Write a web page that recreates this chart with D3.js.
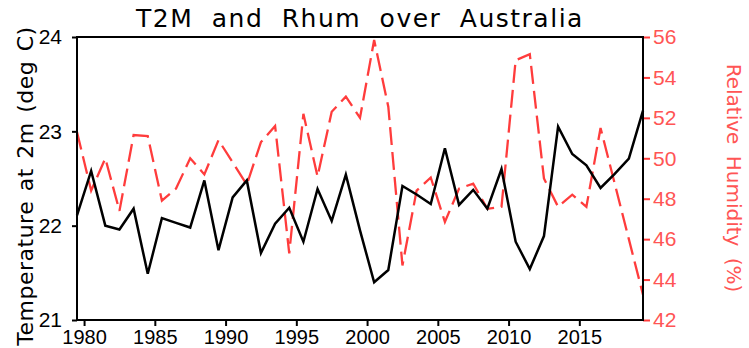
<!DOCTYPE html>
<html>
<head>
<meta charset="utf-8">
<script src="https://cdn.jsdelivr.net/npm/d3@7"></script>
<style>
  body { margin: 0; background: #fff; }
  svg { display: block; }
  text { font-family: "Liberation Sans", Arial, sans-serif; }
  .lbl { font-family: "DejaVu Sans", sans-serif; }
</style>
</head>
<body>
<svg id="chart" width="749" height="348"></svg>
<script>
// annual means, 1979-2019
const years = d3.range(1979, 2020);
const t2m = [22.11, 22.58, 22.00, 21.96, 22.18, 21.49, 22.08, 22.03, 21.98, 22.48,
             21.74, 22.30, 22.48, 21.71, 22.02, 22.19, 21.83, 22.39, 22.05, 22.54,
             21.95, 21.40, 21.53, 22.42, 22.33, 22.23, 22.82, 22.22, 22.38, 22.18,
             22.60, 21.83, 21.54, 21.89, 23.05, 22.76, 22.64, 22.40, 22.55, 22.71, 23.22];
const rhum = [51.3, 48.4, 50.0, 47.4, 51.15, 51.1, 47.9, 48.5, 50.0, 49.2,
              50.9, 49.8, 48.7, 50.8, 51.6, 45.3, 52.2, 49.1, 52.3, 53.05,
              52.0, 55.85, 52.55, 44.7, 48.4, 49.05, 46.85, 48.5, 48.75, 47.5,
              47.6, 54.85, 55.15, 49.0, 47.6, 48.2, 47.6, 51.5, 48.75, 46.0, 43.25];
const xTicks = [1980, 1985, 1990, 1995, 2000, 2005, 2010, 2015];
const tTicks = [21, 22, 23, 24];
const rTicks = d3.range(42, 57, 2);

const pL = 77, pR = 643, pT = 37, pB = 320;
const red = "#ff3c3c";
const svg = d3.select("#chart");

const x = d3.scaleLinear().domain([1979, 2019]).range([pL, pR]);
const yT = d3.scaleLinear().domain([21, 24]).range([pB, pT]);
const yR = d3.scaleLinear().domain([42, 56]).range([pB, pT]);

// bottom axis (labels sit half a year left of the data points)
const gx = svg.append("g")
    .attr("transform", `translate(0,${pB})`)
    .call(d3.axisBottom(x).tickValues(xTicks.map(d => d - 0.5))
        .tickFormat(d => d + 0.5).tickSize(6).tickPadding(4));
gx.select(".domain").remove();
gx.selectAll("line").attr("stroke", "#000").attr("stroke-width", 2);
gx.selectAll("text").attr("font-size", 20).attr("fill", "#000");

// left axis
const gl = svg.append("g")
    .attr("transform", `translate(${pL},0)`)
    .call(d3.axisLeft(yT).tickValues(tTicks).tickFormat(d3.format("d"))
        .tickSize(5).tickPadding(10));
gl.select(".domain").remove();
gl.selectAll("line").attr("stroke", "#000").attr("stroke-width", 2);
gl.selectAll("text").attr("font-size", 21).attr("fill", "#000");

// right axis
const gr = svg.append("g")
    .attr("transform", `translate(${pR},0)`)
    .call(d3.axisRight(yR).tickValues(rTicks).tickSize(7).tickPadding(3));
gr.select(".domain").remove();
gr.selectAll("line").attr("stroke", red).attr("stroke-width", 2);
gr.selectAll("text").attr("font-size", 21).attr("fill", "#ff5555");

// lines
const lineT = d3.line().x((d, i) => x(years[i])).y(d => yT(d));
const lineR = d3.line().x((d, i) => x(years[i])).y(d => yR(d));

svg.append("path")
    .attr("d", lineR(rhum))
    .attr("fill", "none")
    .attr("stroke", red)
    .attr("stroke-width", 2.3)
    .attr("stroke-dasharray", "18,7");

svg.append("path")
    .attr("d", lineT(t2m))
    .attr("fill", "none")
    .attr("stroke", "#000")
    .attr("stroke-width", 2.5)
    .attr("stroke-linejoin", "miter");

// frame
svg.append("rect")
    .attr("x", pL).attr("y", pT)
    .attr("width", pR - pL).attr("height", pB - pT)
    .attr("fill", "none").attr("stroke", "#000").attr("stroke-width", 2);

// titles
svg.append("text")
    .attr("class", "lbl")
    .attr("x", (pL + pR) / 2).attr("y", 27)
    .attr("text-anchor", "middle")
    .attr("font-size", 25)
    .attr("letter-spacing", 1.5)
    .attr("word-spacing", 9)
    .text("T2M and Rhum over Australia");

svg.append("text")
    .attr("class", "lbl")
    .attr("transform", "translate(33,186) rotate(-90)")
    .attr("text-anchor", "middle")
    .attr("font-size", 22)
    .attr("letter-spacing", 0.5)
    .attr("word-spacing", 2)
    .text("Temperature at 2m (deg C)");

svg.append("text")
    .attr("class", "lbl")
    .attr("transform", "translate(727,178) rotate(90)")
    .attr("text-anchor", "middle")
    .attr("font-size", 20)
    .attr("fill", "#ff5555")
    .attr("word-spacing", 5)
    .text("Relative Humidity (%)");
</script>
</body>
</html>
